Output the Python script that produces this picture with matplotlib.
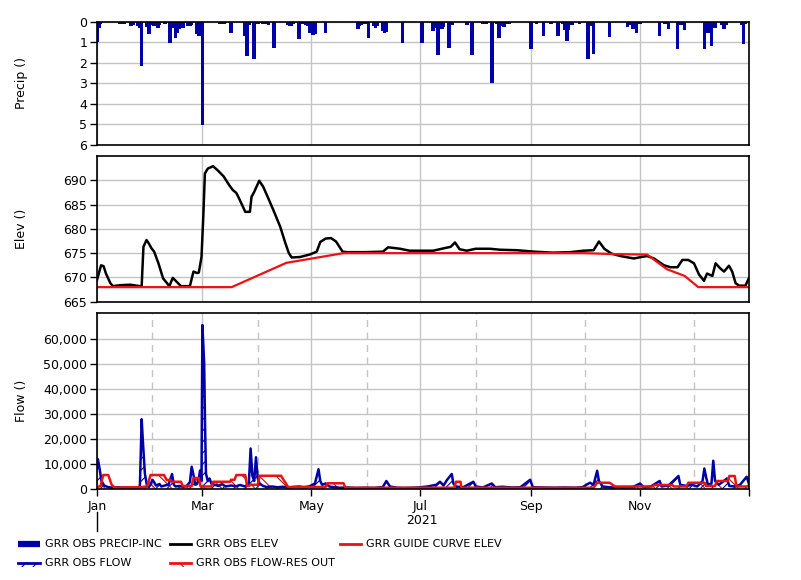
import datetime as dt
import matplotlib
matplotlib.use("Agg")
import matplotlib.pyplot as plt
import matplotlib.dates as mdates
from matplotlib.lines import Line2D
from matplotlib.patches import Rectangle
from matplotlib.ticker import FuncFormatter, MultipleLocator

# ---------------- data (day offsets from 2021-01-01) ----------------
precip_days = [0, 1, 2, 13, 14, 15, 19, 20, 23, 24, 25, 28, 29, 31, 32, 34, 35, 38, 41, 43,
               44, 45, 46, 47, 48, 51, 52, 53, 56, 57, 58, 59, 69, 70, 71, 72, 75, 83, 84, 85,
               88, 90, 92, 93, 94, 96, 99, 107, 108, 109, 110, 113, 115, 117, 118, 119, 121, 122,
               128, 146, 147, 148, 150, 152, 155, 156, 157, 160, 161, 162, 171, 182, 188, 189,
               191, 192, 193, 194, 197, 199, 207, 210, 216, 218, 221, 224, 225, 227, 228, 230,
               231, 243, 246, 250, 254, 258, 261, 262, 263, 264, 266, 270, 275, 276, 278, 287,
               297, 299, 300, 301, 302, 304, 315, 318, 320, 325, 327, 329, 340, 342, 344, 345,
               346, 350, 351, 352, 361, 362, 363]
precip_vals = [1.0, 0.3, 0.1, 0.1, 0.12, 0.1, 0.2, 0.15, 0.2, 0.3, 2.15, 0.25, 0.6, 0.15, 0.2,
               0.3, 0.15, 0.1, 1.05, 0.3, 0.8, 0.55, 0.35, 0.25, 0.3, 0.2, 0.2, 0.15, 0.6, 0.7,
               0.15, 5.05, 0.1, 0.12, 0.1, 0.08, 0.55, 0.7, 1.65, 0.15, 1.8, 0.1, 0.08, 0.1, 0.1,
               0.15, 1.3, 0.15, 0.2, 0.2, 0.1, 0.85, 0.1, 0.15, 0.2, 0.55, 0.65, 0.6, 0.55, 0.35,
               0.2, 0.15, 0.1, 0.8, 0.2, 0.3, 0.2, 0.45, 0.55, 0.5, 1.05, 1.05, 0.45, 0.3, 1.6,
               0.3, 0.35, 0.25, 1.3, 0.15, 0.15, 1.6, 0.1, 0.1, 3.0, 0.1, 0.8, 0.2, 0.25, 0.1,
               0.1, 1.35, 0.1, 0.7, 0.1, 0.7, 0.1, 0.4, 0.95, 0.4, 0.15, 0.1, 1.8, 0.2, 1.55,
               0.75, 0.25, 0.15, 0.35, 0.3, 0.55, 0.1, 0.7, 0.1, 0.35, 1.35, 0.15, 0.4, 1.35,
               0.55, 1.2, 0.2, 0.3, 0.15, 0.35, 0.15, 0.15, 1.1, 0.1]

elev_days = [0, 2.3, 3.7, 5, 7.5, 9, 13, 18.6, 24, 25, 26, 27.7, 29, 30.5, 32, 34.4, 37, 39,
             40.5, 42.4, 44.6, 47, 52, 54, 56, 57, 58.5, 59.5, 60.4, 62, 65, 67.7, 70.9, 74,
             76, 78, 80, 83, 85.6, 86.5, 88, 90.8, 93, 96, 98.8, 102.6, 105.5, 107.4, 109,
             113.6, 119, 123, 125, 128, 131, 133.8, 137.5, 140, 150, 160, 163, 169.7, 175,
             188.3, 193, 198, 200.4, 203, 207, 212, 220, 225.6, 235, 245, 255, 265, 272.3,
             278, 281, 284, 288, 293, 300.6, 304.6, 308, 311.8, 317.4, 321, 325, 327.7, 331,
             334.2, 337, 339.8, 341.5, 344.5, 346.3, 348.8, 351, 353.8, 355.6, 357.5, 359.5,
             363, 365]
elev_vals = [669.5, 672.5, 672.3, 670.8, 668.8, 668.2, 668.4, 668.5, 668.2, 668.2, 676.3,
             677.7, 677.0, 676.0, 675.3, 672.9, 669.8, 668.9, 668.2, 669.9, 669.1, 668.2,
             668.2, 671.2, 670.9, 671.0, 674.2, 682.5, 691.4, 692.4, 692.9, 692.0, 690.8,
             689.0, 688.0, 687.4, 685.9, 683.5, 683.5, 686.6, 687.6, 689.9, 688.7, 686.2,
             683.8, 680.4, 677.0, 675.0, 674.1, 674.2, 674.7, 675.3, 677.3, 678.0, 678.1,
             677.4, 675.3, 675.2, 675.2, 675.3, 676.2, 675.9, 675.5, 675.5, 675.9, 676.3,
             677.2, 675.8, 675.5, 675.9, 675.9, 675.7, 675.6, 675.3, 675.1, 675.2, 675.5,
             675.6, 677.4, 675.9, 674.9, 674.4, 673.9, 674.2, 674.4, 673.9, 672.5, 672.1,
             672.1, 673.6, 673.6, 672.9, 670.6, 669.3, 670.8, 670.3, 672.9, 671.9, 671.2,
             672.4, 671.2, 668.8, 668.3, 668.3, 669.9]

guide_days = [0, 75.4, 106, 138, 272, 290, 308, 319, 329, 336.6, 365]
guide_vals = [668.0, 668.0, 673.0, 675.0, 675.0, 674.8, 674.7, 671.7, 670.3, 668.0, 668.0]

flow_days = [0, 0.5, 1.5, 2.5, 4, 6, 9, 12, 15, 18, 21, 23, 24, 25, 25.7, 26.8, 28, 29, 30,
             31, 32, 33, 35, 36, 38, 40, 41, 42, 43, 44, 46, 48, 50, 52, 53, 54, 55, 56, 57,
             57.7, 58.5, 59, 60, 60.5, 61, 62, 63, 64, 66, 68, 70, 72, 75, 78, 80, 83, 85, 86,
             87, 88, 89, 90, 91, 93, 95, 98, 101, 104, 107, 110, 113, 116, 119, 122, 124, 125,
             126, 128, 130, 133, 136, 140, 145, 150, 155, 160, 162, 164, 168, 172, 176, 180,
             185, 190, 192, 194, 196, 198.6, 199.5, 201, 205, 210.7, 212, 216, 221, 223, 227,
             232, 237, 242.5, 244, 250, 256, 262, 268, 272, 274, 276, 278, 280, 281, 283, 287,
             291, 295, 300, 304, 306, 310, 315, 316, 320, 325.5, 326.5, 330, 333, 336, 339,
             340, 341, 342, 344, 345, 346, 348, 350, 352.6, 354, 357, 360, 363.7, 364.9]
flow_vals = [8700, 11700, 7700, 3000, 1200, 600, 300, 500, 300, 400, 300, 500, 800, 27700,
             18700, 6000, 1000, 600, 1500, 3500, 2500, 1200, 1800, 800, 1200, 1500, 3500, 5800,
             1500, 800, 1000, 700, 900, 2500, 8700, 5500, 1500, 1800, 4000, 7200, 3000, 65400,
             50000, 25000, 6000, 3000, 4000, 2000, 1500, 1000, 1800, 800, 1200, 900, 1400, 800,
             2000, 16000, 5000, 3000, 12500, 4000, 2000, 1000, 600, 800, 500, 700, 400, 600,
             800, 500, 900, 2000, 7700, 3000, 1500, 2000, 800, 500, 300, 400, 200, 300, 200,
             600, 3000, 800, 300, 200, 300, 400, 800, 1500, 2700, 1200, 3500, 5800, 2000, 800,
             500, 2700, 800, 400, 2000, 500, 700, 400, 500, 3500, 500, 400, 300, 400, 300, 600,
             1500, 2300, 1500, 7100, 3000, 800, 500, 400, 300, 600, 2000, 500, 800, 3000, 800,
             1200, 5000, 1500, 1000, 1500, 800, 3000, 8000, 4500, 1500, 2000, 11100, 3000,
             1500, 2500, 4000, 1000, 800, 1500, 4700, 2000]

resout_days = [0, 2, 3.5, 6.3, 8.2, 10, 17, 24, 28, 30, 37.5, 39, 41, 42, 47, 48, 53, 54, 57,
               58, 64, 65, 74.5, 75, 77, 78, 83, 84, 85, 86, 90, 91, 103, 107, 128, 129, 138,
               139, 200, 201, 203.5, 204, 278, 280, 287, 290, 311, 312, 322, 323, 330, 331, 340,
               341, 346, 347, 353, 354, 357, 358, 364.9]
resout_vals = [500, 1000, 5400, 5400, 1500, 300, 500, 500, 800, 5400, 5400, 3400, 3400, 2700,
               2700, 1000, 1000, 4200, 4200, 800, 800, 2700, 2700, 3500, 3500, 5400, 5400, 1000,
               1000, 1500, 1500, 5100, 5100, 600, 600, 2100, 2100, 300, 300, 2700, 2700, 300,
               300, 2300, 2300, 800, 800, 1400, 1400, 800, 800, 2300, 2300, 1000, 1000, 3000,
               3000, 5000, 5000, 800, 800]

month_ticks = ["Jan", "Mar", "May", "Jul", "Sep", "Nov"]
year_label = "2021"
legend_labels = ["GRR OBS PRECIP-INC", "GRR OBS ELEV", "GRR GUIDE CURVE ELEV",
                 "GRR OBS FLOW", "GRR OBS FLOW-RES OUT"]

# ---------------- helpers ----------------
START = dt.datetime(2021, 1, 1)


def to_dates(days):
    return [START + dt.timedelta(days=float(d)) for d in days]


BLUE = "#0000a8"
RED = "#ee1111"
HATCH_RED = "#b01010"
GRID = "#c4c4c4"

plt.rcParams["font.family"] = ["DejaVu Sans"]
plt.rcParams["font.size"] = 9
plt.rcParams["hatch.linewidth"] = 0.8

fig = plt.figure(figsize=(8.01, 5.80), dpi=100)
W, H = 801.0, 580.0
L, R = 97.0, 749.0


def add_ax(top, bottom):
    return fig.add_axes([L / W, 1 - bottom / H, (R - L) / W, (bottom - top) / H])


ax1 = add_ax(21.7, 145.0)
ax2 = add_ax(156.0, 301.7)
ax3 = add_ax(313.3, 488.5)

xmin, xmax = START, dt.datetime(2022, 1, 1)
for ax in (ax1, ax2, ax3):
    ax.set_xlim(xmin, xmax)
    ax.xaxis.set_major_locator(mdates.MonthLocator(bymonth=[1, 3, 5, 7, 9, 11]))
    ax.xaxis.set_minor_locator(mdates.MonthLocator())
    ax.grid(True, which="major", color=GRID, lw=1.0)
    ax.set_axisbelow(True)
    for s in ax.spines.values():
        s.set_linewidth(1.2)
        s.set_color("black")
    ax.tick_params(axis="y", direction="out", length=5, width=1, pad=2, labelsize=9)
    ax.tick_params(axis="x", which="both", length=0, labelbottom=False)

# ---- precip ----
ax1.bar(to_dates(precip_days), precip_vals, width=2.0, color=BLUE, align="center",
        linewidth=0)
ax1.set_ylim(6, 0)
ax1.yaxis.set_major_locator(MultipleLocator(1))
ax1.set_ylabel("Precip ()")
ax1.yaxis.set_label_coords((28 - L) / (R - L), 0.5)

# ---- elevation ----
ax2.plot(to_dates(elev_days), elev_vals, color="black", lw=1.8, solid_joinstyle="round")
ax2.plot(to_dates(guide_days), guide_vals, color=RED, lw=1.6)
ax2.set_ylim(665, 695)
ax2.set_yticks([665, 670, 675, 680, 685, 690])
ax2.set_ylabel("Elev ()")
ax2.yaxis.set_label_coords((28 - L) / (R - L), 0.5)

# ---- flow ----
fd = to_dates(flow_days)
rd = to_dates(resout_days)
ax3.grid(True, which="minor", axis="x", color=GRID, lw=1.0, ls=(0, (5, 4)))
ax3.fill(fd + [fd[-1], fd[0]], flow_vals + [0, 0], facecolor="none", edgecolor=BLUE,
         hatch="///", linewidth=0)
ax3.plot(fd, flow_vals, color=BLUE, lw=1.8)
ax3.fill(rd + [rd[-1], rd[0]], resout_vals + [0, 0], facecolor="none", edgecolor=HATCH_RED,
         hatch="\\\\", linewidth=0)
ax3.plot(rd, resout_vals, color=RED, lw=1.8)
ax3.set_ylim(0, 70100)
ax3.set_yticks([0, 10000, 20000, 30000, 40000, 50000, 60000])
ax3.yaxis.set_major_formatter(FuncFormatter(lambda v, p: f"{v:,.0f}"))
ax3.set_ylabel("Flow ()")
ax3.yaxis.set_label_coords((28 - L) / (R - L), 0.5)
ax3.tick_params(axis="x", which="major", length=5, width=1, pad=3, labelbottom=True,
                labelsize=9)


def month_fmt(v, p):
    d = mdates.num2date(v)
    if d.year != 2021:
        return ""
    return month_ticks[(d.month - 1) // 2]


ax3.xaxis.set_major_formatter(FuncFormatter(month_fmt))

# year label and separator
ax3.text(dt.datetime(2021, 7, 2), (488.5 - 520) / (488.5 - 313.3), year_label,
         transform=ax3.get_xaxis_transform(), ha="center", va="center", fontsize=9)
ax3.add_line(Line2D([0, 0], [(488.5 - 512) / 175.2, (488.5 - 531) / 175.2],
                    transform=ax3.transAxes, color="black", lw=1, clip_on=False))

# ---- legend (drawn manually) ----
def fx(px):
    return px / W


def fy(py):
    return 1 - py / H


leg_font = dict(fontsize=8, family=["Liberation Sans Narrow", "DejaVu Sans"], va="center")
# row 1
fig.add_artist(Line2D([fx(18), fx(40)], [fy(544), fy(544)], color=BLUE, lw=4.5,
                      solid_capstyle="butt"))
fig.text(fx(45), fy(544), legend_labels[0], **leg_font)
fig.add_artist(Line2D([fx(170), fx(191)], [fy(544), fy(544)], color="black", lw=2))
fig.text(fx(196), fy(544), legend_labels[1], **leg_font)
fig.add_artist(Line2D([fx(340), fx(361)], [fy(544), fy(544)], color=RED, lw=2))
fig.text(fx(366), fy(544), legend_labels[2], **leg_font)
# row 2
fig.add_artist(Rectangle((fx(18), fy(567)), fx(22), 4 / H, facecolor="none",
                         edgecolor=BLUE, hatch="///", lw=0))
fig.add_artist(Line2D([fx(18), fx(40)], [fy(562.5), fy(562.5)], color=BLUE, lw=2))
fig.text(fx(45), fy(563), legend_labels[3], **leg_font)
fig.add_artist(Rectangle((fx(170), fy(567)), fx(21), 4 / H, facecolor="none",
                         edgecolor=HATCH_RED, hatch="\\\\", lw=0))
fig.add_artist(Line2D([fx(170), fx(191)], [fy(562.5), fy(562.5)], color=RED, lw=2))
fig.text(fx(196), fy(563), legend_labels[4], **leg_font)

fig.savefig("out.png", dpi=100)
